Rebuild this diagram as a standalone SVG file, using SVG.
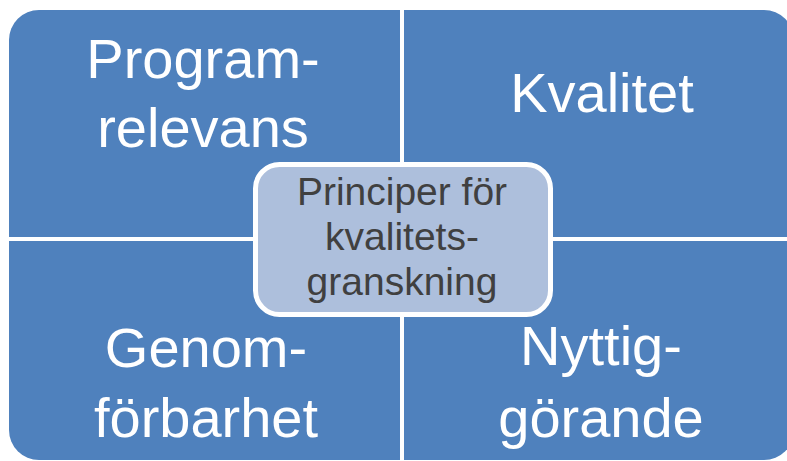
<svg xmlns="http://www.w3.org/2000/svg" width="787" height="461" viewBox="0 0 787 461">
<style>
.q{fill:#4F81BD}
.qt{font-family:"Liberation Sans",Arial,sans-serif;font-size:56px;fill:#FFFFFF;text-anchor:middle}
.ct{font-family:"Liberation Sans",Arial,sans-serif;font-size:39px;fill:#404040;text-anchor:middle}
</style>
<rect width="787" height="461" fill="#FFFFFF"/>
<g id="programrelevans">
<path class="q" d="M9,40 A30,30 0 0 1 39,10 L400,10 L400,237 L9,237 Z"/>
<text class="qt" x="203" y="78">Program-</text>
<text class="qt" x="203" y="147">relevans</text>
</g>
<g id="kvalitet">
<path class="q" d="M404,10 L764,10 A30,30 0 0 1 794,40 L794,237 L404,237 Z"/>
<text class="qt" x="602" y="112">Kvalitet</text>
</g>
<g id="genomforbarhet">
<path class="q" d="M9,241 L400,241 L400,460 L39,460 A30,30 0 0 1 9,430 Z"/>
<text class="qt" x="206" y="367">Genom-</text>
<text class="qt" x="206" y="437">förbarhet</text>
</g>
<g id="nyttigorande">
<path class="q" d="M404,241 L794,241 L794,430 A30,30 0 0 1 764,460 L404,460 Z"/>
<text class="qt" x="601" y="365">Nyttig-</text>
<text class="qt" x="601" y="437">görande</text>
</g>
<g id="principer">
<rect x="255.5" y="164.5" width="295" height="150" rx="24" ry="24" fill="#ADBFDC" stroke="#FFFFFF" stroke-width="5"/>
<text class="ct" x="402" y="205">Principer för</text>
<text class="ct" x="402" y="250">kvalitets-</text>
<text class="ct" x="402" y="295">granskning</text>
</g>
<g id="connectors"/>
</svg>
